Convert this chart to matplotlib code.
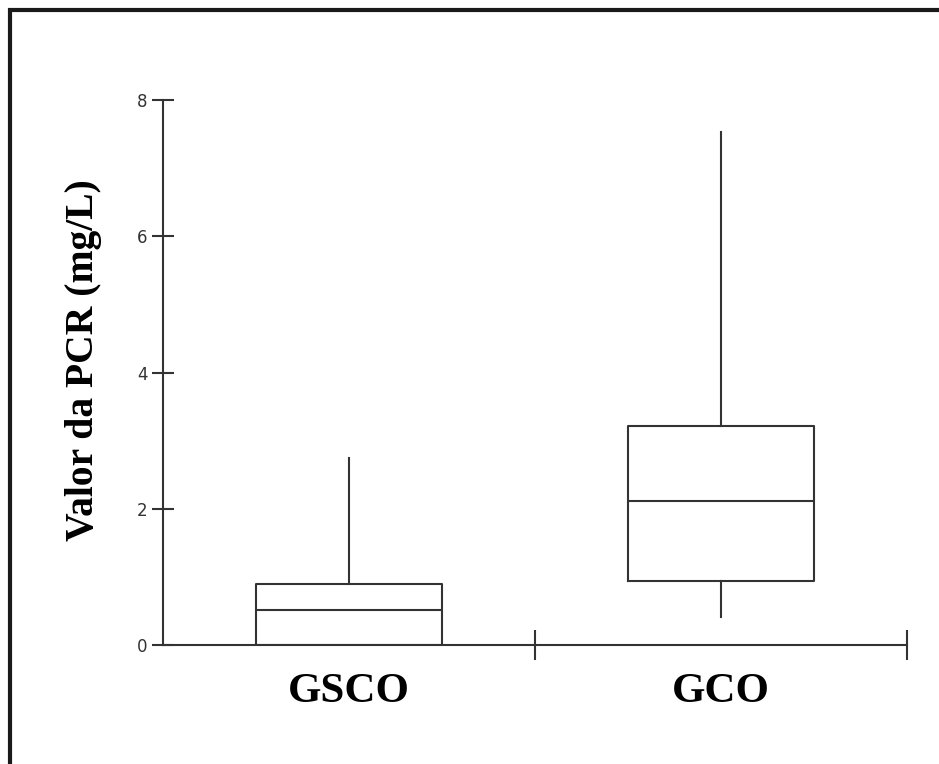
import matplotlib.pyplot as plt
from matplotlib.patches import Rectangle

groups = ['GSCO', 'GCO']
whisk_lo = [0.0, 0.41]
q1 = [0.0, 0.94]
median = [0.51, 2.11]
q3 = [0.90, 3.22]
whisk_hi = [2.75, 7.53]
yticks = [0, 2, 4, 6, 8]

W, H = 939, 764
fig = plt.figure(figsize=(W / 100, H / 100), dpi=100)

# frame around the whole picture (runs off right/bottom edges)
fig.patches.append(Rectangle((9.5 / W, -0.2), 1.5, 1.2 - 9.5 / H,
                             transform=fig.transFigure, fill=False,
                             edgecolor='#1a1a1a', linewidth=3))

ax = fig.add_axes([163 / W, (H - 645) / H, (907 - 163) / W, (645 - 100) / H])

stats = []
for i, g in enumerate(groups):
    stats.append(dict(label=g, whislo=whisk_lo[i], q1=q1[i], med=median[i],
                      q3=q3[i], whishi=whisk_hi[i], fliers=[]))

lc = '#333333'
lw = 1.5
ax.bxp(stats, positions=[0, 1], widths=0.5, showcaps=False, showfliers=False,
       boxprops=dict(color=lc, linewidth=lw),
       whiskerprops=dict(color=lc, linewidth=lw),
       medianprops=dict(color=lc, linewidth=lw))

ax.set_xlim(-0.5, 1.5)
ax.set_ylim(0, 8)
for s in ['top', 'right']:
    ax.spines[s].set_visible(False)
for s in ['left', 'bottom']:
    ax.spines[s].set_color(lc)
    ax.spines[s].set_linewidth(lw)

ax.set_yticks(yticks)
ax.set_yticklabels([str(v) for v in yticks])
ax.tick_params(axis='y', direction='inout', length=16, width=lw, color=lc,
               labelsize=12, labelcolor='#333333', pad=3)

# category boundaries as major ticks, names as minor tick labels
ax.set_xticks([0.5, 1.5])
ax.set_xticklabels(['', ''])
ax.tick_params(axis='x', which='major', direction='inout', length=22, width=lw, color=lc)
ax.set_xticks([0, 1], minor=True)
ax.set_xticklabels(groups, minor=True, fontfamily='Liberation Serif',
                   fontweight='bold', fontsize=31)
ax.tick_params(axis='x', which='minor', length=0, pad=20)

ax.set_ylabel('Valor da PCR (mg/L)', fontfamily='Liberation Serif',
              fontweight='bold', fontsize=28.5, va='center')
ax.yaxis.set_label_coords(-0.1075, 0.523)

fig.savefig('out.png', dpi=100)
